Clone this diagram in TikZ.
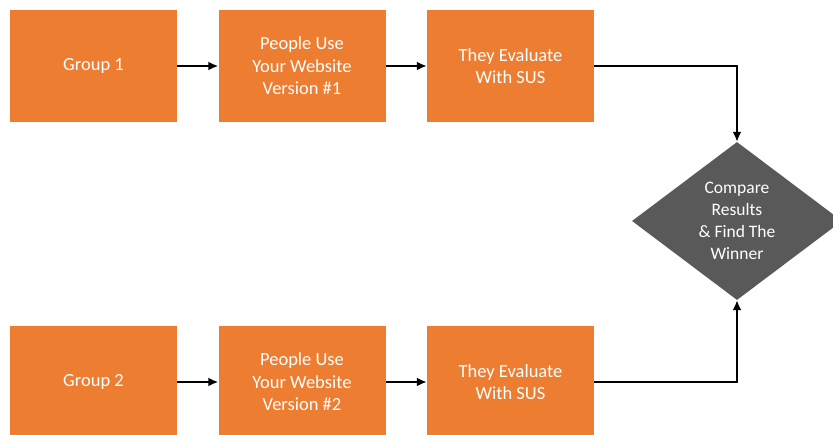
\documentclass[tikz,border=0pt]{standalone}
\usepackage{fontspec}
\setmainfont{Carlito}
\usetikzlibrary{shapes.geometric, arrows.meta}
\definecolor{boxorange}{HTML}{ED7D31}
\definecolor{diagray}{HTML}{595959}

\tikzset{
	stepbox/.style={shape=rectangle, fill=boxorange, minimum width=167pt, minimum height=112pt, inner sep=0pt, align=center, text=white, font=\fontsize{18.5}{22.5}\selectfont},
	decide/.style={shape=diamond, fill=diagray, minimum width=210pt, minimum height=158pt, inner sep=0pt, align=center, text=white, font=\fontsize{17.5}{22}\selectfont},
	link/.style={line width=2pt, -{Latex[length=10pt, width=9pt]}}
}

\begin{document}
\begin{tikzpicture}[x=1pt, y=1pt]
	\useasboundingbox (0, 0) rectangle (833, 435);
	\clip (0, 0) rectangle (833, 435);
	% Top row:
	\node[stepbox] (grpA) at (93.5, 369){Group 1};
	\node[stepbox] (useA) at (302, 369){People Use\\Your Website\\Version \#1};
	\node[stepbox] (evalA) at (510.5, 369){They Evaluate\\With SUS};
	% Bottom row:
	\node[stepbox] (grpB) at (93.5, 53){Group 2};
	\node[stepbox] (useB) at (302, 53){People Use\\Your Website\\Version \#2};
	\node[stepbox] (evalB) at (510.5, 53){They Evaluate\\With SUS};
	% Decision:
	\node[decide] (cmp) at (737, 214){Compare\\Results\\\& Find The\\Winner};
	% Connectors:
	\draw[link] (grpA) -- (useA);
	\draw[link] (useA) -- (evalA);
	\draw[link] (evalA.east) -| (cmp.north);
	\draw[link] (grpB) -- (useB);
	\draw[link] (useB) -- (evalB);
	\draw[link] (evalB.east) -| (cmp.south);
\end{tikzpicture}
\end{document}
